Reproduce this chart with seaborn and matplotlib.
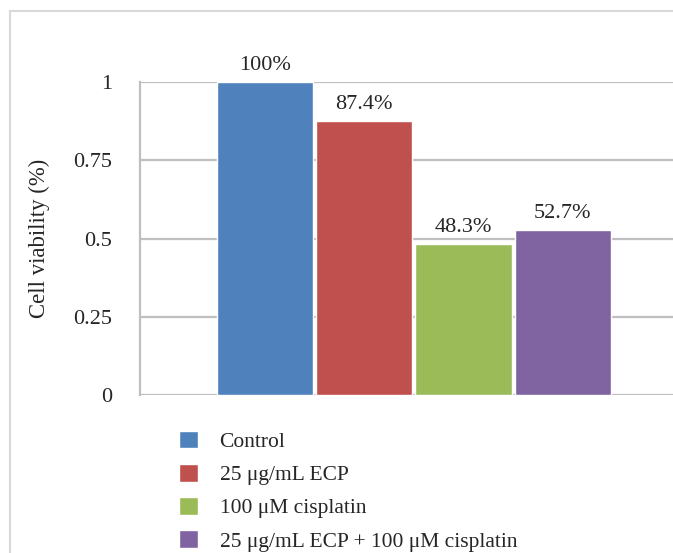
import matplotlib
matplotlib.use("Agg")
import matplotlib.pyplot as plt
import seaborn as sns
import pandas as pd
from matplotlib.patches import Rectangle

# --- chart data ---
groups = ["Control", "25 μg/mL ECP", "100 μM cisplatin", "25 μg/mL ECP + 100 μM cisplatin"]
viability = [1.0, 0.874, 0.483, 0.527]
bar_labels = ["100%", "87.4%", "48.3%", "52.7%"]
colors = ["#4F81BD", "#C0504D", "#9BBB59", "#8064A2"]
yticks = [0, 0.25, 0.5, 0.75, 1]
ytick_labels = ["0", "0.25", "0.5", "0.75", "1"]

df = pd.DataFrame({"group": groups, "viability": viability})

sns.set_style("white")
plt.rcParams["font.family"] = ["Liberation Serif", "DejaVu Serif"]

fig = plt.figure(figsize=(6.73, 5.53), dpi=100)
ax = fig.add_axes([140 / 673, 1 - 395 / 553, 1 - 140 / 673 + 0.05, (395 - 82) / 553])

sns.barplot(data=df, x="group", y="viability", hue="group", palette=colors,
            width=0.97, dodge=False, legend=True, ax=ax, saturation=1)

# value labels above bars
for cont, lab in zip(ax.containers, bar_labels):
    ax.bar_label(cont, labels=[lab], padding=5, fontsize=16)

ax.set_ylim(0, 1)
ax.set_xlim(-1.26, 4.45)
ax.set_yticks(yticks)
ax.set_yticklabels(ytick_labels, fontsize=16)
ax.set_xticks([])
ax.set_xlabel("")
ax.set_ylabel("Cell viability (%)", fontsize=16.4, labelpad=17)
ax.yaxis.grid(True, color="#bfbfbf", linewidth=1.6)
ax.set_axisbelow(True)
ax.tick_params(axis="y", length=5, color="#bfbfbf", width=1.4, pad=15)
for side in ["top", "right", "bottom"]:
    ax.spines[side].set_visible(False)
ax.spines["left"].set_color("#bfbfbf")
ax.spines["left"].set_linewidth(1.6)
for b in ax.patches:
    b.set_clip_on(False)

leg = ax.legend(loc="upper left", bbox_to_anchor=(170 / 673, 1 - 422 / 553),
                bbox_transform=fig.transFigure, frameon=False, fontsize=15.5,
                handlelength=0.9, handleheight=0.9, handletextpad=1.0,
                labelspacing=0.55, borderaxespad=0)

# outer chart border
fig.patches.append(Rectangle((10 / 673, -0.05), 1.1, 1 - 11 / 553 + 0.05,
                             transform=fig.transFigure, fill=False,
                             edgecolor="#d9d9d9", linewidth=1.5))

fig.savefig("out.png", dpi=100)
